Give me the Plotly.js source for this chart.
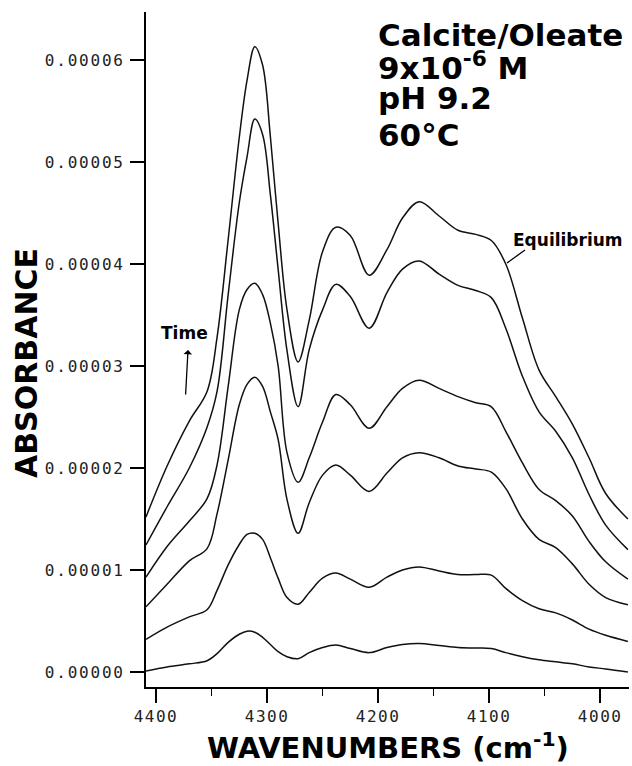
<!DOCTYPE html>
<html>
<head>
<meta charset="utf-8">
<script src="https://cdn.plot.ly/plotly-3.0.1.min.js"></script>
<style>
html, body { margin: 0; padding: 0; background: #fff; }
#chart { width: 632px; height: 766px; }
.xtick text { letter-spacing: 1.5px; }
.ytick text { letter-spacing: 1.8px; }
</style>
</head>
<body>
<div id="chart"></div>
<script>
// Wavenumbers (cm^-1) at which the curves were read
const wavenumber = [4409, 4390, 4370, 4354, 4345, 4335, 4325, 4318, 4311, 4304, 4297, 4290, 4282, 4272, 4262, 4250, 4238, 4225, 4208, 4192, 4178, 4163, 4145, 4128, 4112, 4098, 4085, 4070, 4055, 4040, 4025, 4010, 3995, 3975];

// Absorbance spectra, earliest (bottom) to equilibrium (top)
const spectrum1 = [0.01e-5, 0.05e-5, 0.08e-5, 0.11e-5, 0.18e-5, 0.29e-5, 0.37e-5, 0.40e-5, 0.39e-5, 0.34e-5, 0.27e-5, 0.20e-5, 0.15e-5, 0.13e-5, 0.19e-5, 0.24e-5, 0.265e-5, 0.23e-5, 0.19e-5, 0.24e-5, 0.27e-5, 0.28e-5, 0.26e-5, 0.24e-5, 0.235e-5, 0.23e-5, 0.19e-5, 0.15e-5, 0.12e-5, 0.10e-5, 0.08e-5, 0.05e-5, 0.03e-5, 0.0];
const spectrum2 = [0.32e-5, 0.44e-5, 0.54e-5, 0.61e-5, 0.80e-5, 1.05e-5, 1.25e-5, 1.35e-5, 1.36e-5, 1.30e-5, 1.12e-5, 0.92e-5, 0.73e-5, 0.665e-5, 0.78e-5, 0.92e-5, 0.97e-5, 0.91e-5, 0.83e-5, 0.93e-5, 1.00e-5, 1.03e-5, 0.99e-5, 0.955e-5, 0.955e-5, 0.95e-5, 0.82e-5, 0.70e-5, 0.62e-5, 0.58e-5, 0.51e-5, 0.42e-5, 0.36e-5, 0.30e-5];
const spectrum3 = [0.64e-5, 0.86e-5, 1.09e-5, 1.21e-5, 1.55e-5, 2.08e-5, 2.62e-5, 2.82e-5, 2.89e-5, 2.80e-5, 2.55e-5, 2.28e-5, 1.69e-5, 1.36e-5, 1.66e-5, 1.93e-5, 2.03e-5, 1.93e-5, 1.77e-5, 1.95e-5, 2.10e-5, 2.15e-5, 2.10e-5, 2.02e-5, 1.99e-5, 1.96e-5, 1.80e-5, 1.50e-5, 1.30e-5, 1.22e-5, 1.06e-5, 0.86e-5, 0.73e-5, 0.66e-5];
const spectrum4 = [0.93e-5, 1.23e-5, 1.48e-5, 1.70e-5, 2.03e-5, 2.80e-5, 3.55e-5, 3.75e-5, 3.81e-5, 3.70e-5, 3.42e-5, 3.00e-5, 2.15e-5, 1.86e-5, 2.10e-5, 2.45e-5, 2.72e-5, 2.62e-5, 2.39e-5, 2.60e-5, 2.78e-5, 2.86e-5, 2.78e-5, 2.70e-5, 2.64e-5, 2.60e-5, 2.36e-5, 2.05e-5, 1.79e-5, 1.68e-5, 1.53e-5, 1.28e-5, 1.08e-5, 0.91e-5];
const spectrum5 = [1.245e-5, 1.62e-5, 2.00e-5, 2.40e-5, 2.75e-5, 3.70e-5, 4.60e-5, 5.05e-5, 5.42e-5, 5.27e-5, 4.68e-5, 3.95e-5, 3.15e-5, 2.60e-5, 3.16e-5, 3.55e-5, 3.80e-5, 3.68e-5, 3.37e-5, 3.72e-5, 3.95e-5, 4.03e-5, 3.90e-5, 3.79e-5, 3.74e-5, 3.67e-5, 3.37e-5, 2.90e-5, 2.55e-5, 2.36e-5, 2.10e-5, 1.74e-5, 1.44e-5, 1.20e-5];
const spectrum6 = [1.52e-5, 2.02e-5, 2.46e-5, 2.75e-5, 3.28e-5, 4.24e-5, 5.24e-5, 5.80e-5, 6.13e-5, 5.95e-5, 5.25e-5, 4.40e-5, 3.55e-5, 3.04e-5, 3.45e-5, 4.12e-5, 4.36e-5, 4.28e-5, 3.89e-5, 4.14e-5, 4.45e-5, 4.61e-5, 4.47e-5, 4.33e-5, 4.29e-5, 4.23e-5, 4.00e-5, 3.47e-5, 2.96e-5, 2.70e-5, 2.43e-5, 2.10e-5, 1.75e-5, 1.50e-5];

const xTickVals = [4400, 4300, 4200, 4100, 4000];
const yTickVals = [0, 0.00001, 0.00002, 0.00003, 0.00004, 0.00005, 0.00006];
const yTickText = ['0.00000', '0.00001', '0.00002', '0.00003', '0.00004', '0.00005', '0.00006'];

const annoLines = ['Calcite/Oleate', '9x10<sup>-6</sup> M', 'pH 9.2', '60°C'];

const series = [spectrum1, spectrum2, spectrum3, spectrum4, spectrum5, spectrum6];
const traces = series.map(s => ({
  x: wavenumber, y: s, type: 'scatter', mode: 'lines',
  line: { color: '#111', width: 1.5, shape: 'spline', smoothing: 1 },
  hoverinfo: 'skip'
}));

const bold = (size) => ({ family: 'DejaVu Sans', size: size, weight: 'bold', color: '#000' });
const annoY = [0.9652, 0.9207, 0.8733, 0.8185];

const annotations = annoLines.map((t, i) => ({
  xref: 'paper', yref: 'paper', x: 0.476, y: annoY[i], xanchor: 'left', yanchor: 'middle',
  text: t, showarrow: false, font: bold(31)
}));
annotations.push(
  { xref: 'paper', yref: 'paper', x: -0.2474, y: 0.4793, xanchor: 'center', yanchor: 'middle',
    text: 'ABSORBANCE', textangle: -90, showarrow: false, font: bold(30) },
  { xref: 'paper', yref: 'paper', x: 0.5, y: -0.088, xanchor: 'center', yanchor: 'middle',
    text: 'WAVENUMBERS (cm<sup>-1</sup>)', showarrow: false, font: bold(29) },
  { xref: 'paper', yref: 'paper', x: 0.0807, y: 0.5244, xanchor: 'center', yanchor: 'middle',
    text: 'Time', showarrow: false, font: bold(17) },
  { xref: 'paper', yref: 'paper', x: 0.8737, y: 0.6622, xanchor: 'center', yanchor: 'middle',
    text: 'Equilibrium', showarrow: false, font: bold(17) },
  { xref: 'paper', yref: 'paper', x: 0.0870, y: 0.4993, text: '', showarrow: true,
    axref: 'pixel', ayref: 'pixel', ax: -2.5, ay: 46, arrowhead: 1, arrowsize: 1.1, arrowwidth: 1.3,
    arrowcolor: '#000', standoff: 0, startstandoff: 0 }
);

const layout = {
  width: 632, height: 766,
  margin: { l: 146, r: 3, t: 12, b: 79, pad: 0 },
  paper_bgcolor: '#fff', plot_bgcolor: '#fff',
  showlegend: false,
  xaxis: {
    range: [4409, 3974], tickvals: xTickVals, ticktext: xTickVals.map(String),
    ticks: 'outside', ticklen: 14, tickwidth: 1.5, tickcolor: '#000',
    showline: true, linewidth: 2, linecolor: '#000', showgrid: false, zeroline: false,
    tickfont: { family: 'DejaVu Sans Mono', size: 16, color: '#222' },
    minor: { dtick: 50, tick0: 4000, ticks: 'outside', ticklen: 7, tickwidth: 1.5, tickcolor: '#000', showgrid: false },
    fixedrange: true
  },
  yaxis: {
    range: [-0.00000147, 0.0000647], tickvals: yTickVals, ticktext: yTickText,
    ticks: 'outside', ticklen: 14, tickwidth: 1.5, tickcolor: '#000',
    ticklabelstandoff: 2,
    showline: true, linewidth: 2, linecolor: '#000', showgrid: false, zeroline: false,
    tickfont: { family: 'DejaVu Sans Mono', size: 16, color: '#222' },
    fixedrange: true
  },
  annotations: annotations,
  shapes: [
    { type: 'line', xref: 'paper', yref: 'paper', x0: 0.7847, y0: 0.6474, x1: 0.7474, y1: 0.6281,
      line: { color: '#000', width: 1.3 } }
  ]
};

Plotly.newPlot('chart', traces, layout, { displayModeBar: false, staticPlot: true });
</script>
</body>
</html>
